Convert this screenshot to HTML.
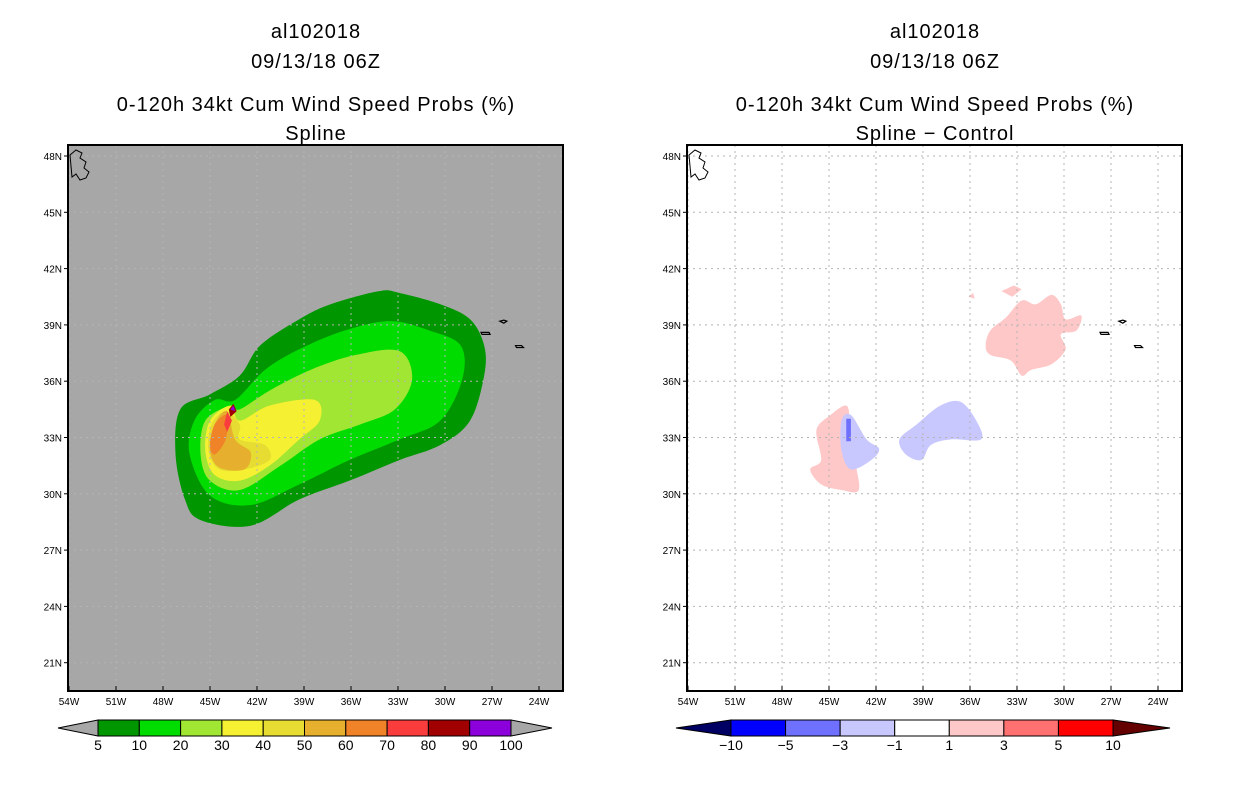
<!DOCTYPE html>
<html><head><meta charset="utf-8">
<style>
body{margin:0;background:#fff;width:1236px;height:800px;overflow:hidden;font-family:"Liberation Sans",sans-serif}
svg text{font-family:"Liberation Sans",sans-serif}
</style></head>
<body>
<svg id="chart" width="1236" height="800" xmlns="http://www.w3.org/2000/svg"></svg>
<script>
const latTicks=[48,45,42,39,36,33,30,27,24,21];
const lonTicks=[54,51,48,45,42,39,36,33,30,27,24];
const probLevels=["5","10","20","30","40","50","60","70","80","90","100"];
const probColors=["#009600","#00dc00","#a0e632","#f5f032","#e6dc32","#e6af2d","#f08228","#fa3c3c","#a00000","#8c00dc"];
const diffLevels=["-10","-5","-3","-1","1","3","5","10"];
const diffColors=["#0000ff","#7070ff","#c8c8ff","#ffffff","#ffc8c8","#ff7070","#ff0000"];
const c5=[[-47.2,32.1],[-46.9,34.5],[-45.0,35.3],[-43.1,36.3],[-41.8,37.9],[-39.3,39.3],[-37.3,40.1],[-34.2,40.8],[-32.9,40.7],[-30.3,40.1],[-28.4,39.3],[-27.5,37.9],[-27.5,36.3],[-28.4,33.9],[-30.3,32.6],[-32.9,31.8],[-36.1,30.7],[-39.3,29.7],[-42.4,28.3],[-45.6,28.6],[-46.6,29.7]];
const c10=[[-46.3,32.1],[-46.0,33.9],[-44.7,35.0],[-43.4,35.0],[-41.5,36.6],[-39.3,37.7],[-36.4,38.7],[-33.5,39.2],[-31.0,38.7],[-29.0,37.9],[-28.9,36.1],[-30.3,33.9],[-32.9,32.9],[-36.1,31.8],[-39.3,30.5],[-42.4,29.4],[-45.0,29.9]];
const c20=[[-45.6,32.1],[-45.3,33.9],[-43.7,34.7],[-43.1,34.5],[-41.2,35.5],[-38.6,36.6],[-35.7,37.4],[-32.9,37.6],[-32.1,36.1],[-33.2,34.5],[-35.4,33.7],[-38.0,32.9],[-40.5,31.5],[-43.1,30.2],[-45.0,30.7]];
const c30=[[-45.3,32.3],[-45.0,33.9],[-43.7,34.7],[-43.1,33.9],[-41.2,34.7],[-38.3,35.0],[-38.0,33.9],[-39.3,32.9],[-41.2,31.5],[-43.1,30.7],[-44.7,31.0]];
const c40=[[-45.1,32.3],[-44.9,33.7],[-44.0,34.4],[-43.1,33.7],[-43.1,32.9],[-41.5,32.6],[-41.2,31.8],[-42.8,31.3],[-44.4,31.3]];
const c50=[[-45.0,32.3],[-44.7,33.7],[-43.9,34.4],[-43.4,32.9],[-42.4,32.2],[-42.8,31.3],[-44.4,31.4]];
const c60=[[-45.0,32.6],[-44.7,33.7],[-43.9,34.2],[-44.0,32.9],[-44.7,32.1]];
const c70=[[-44.1,33.7],[-43.9,34.4],[-43.6,33.9],[-43.9,33.3]];
const c80=[[-43.8,34.5],[-43.5,34.8],[-43.3,34.4],[-43.7,34.1]];
const c90=[[-43.7,34.5],[-43.5,34.7],[-43.4,34.4]];
const probContours=[c5,c10,c20,c30,c40,c50,c60,c70,c80,c90];
const pinkA=[[-34.7,38.7],[-33.7,39.4],[-32.7,40.3],[-31.8,40.1],[-30.8,40.6],[-30.2,40.1],[-29.9,39.3],[-28.9,39.5],[-29.2,38.7],[-30.2,38.5],[-29.9,37.7],[-30.8,36.9],[-32.1,36.6],[-32.7,36.3],[-33.4,37.1],[-34.7,37.4],[-35.0,37.9]];
const pinkB=[[-34.0,40.8],[-33.2,41.1],[-32.7,40.9],[-33.3,40.5]];
const pinkD=[[-36.1,40.5],[-35.8,40.7],[-35.7,40.4]];
const pinkC=[[-45.8,33.4],[-44.9,34.2],[-43.9,34.7],[-43.6,33.9],[-43.0,32.9],[-43.3,31.8],[-43.1,30.2],[-44.2,30.2],[-45.5,30.5],[-46.2,31.3],[-45.5,31.8]];
const blueA=[[-44.2,33.9],[-43.6,34.2],[-42.6,32.9],[-41.8,32.4],[-42.3,31.8],[-43.6,31.3],[-44.2,32.3]];
const blueB=[[-40.5,32.9],[-39.4,33.7],[-37.9,34.7],[-36.6,34.9],[-35.6,33.9],[-35.3,32.9],[-37.2,32.9],[-38.5,32.6],[-39.1,31.8],[-40.1,32.1]];
const blueDark=[[-43.9,34.0],[-43.6,34.0],[-43.6,32.8],[-43.9,32.8]];
const diffContours=[[pinkA,"#ffc8c8"],[pinkB,"#ffc8c8"],[pinkD,"#ffc8c8"],[pinkC,"#ffc8c8"],[blueA,"#c8c8ff"],[blueB,"#c8c8ff"],[blueDark,"#7070ff"]];

const NS="http://www.w3.org/2000/svg";
const svg=document.getElementById('chart');
function mk(t,a,p){const e=document.createElementNS(NS,t);for(const k in a)e.setAttribute(k,a[k]);(p||svg).appendChild(e);return e;}
const Y=lat=>156+(48-lat)*56.3/3;
function panel(x0,bg,title2,name){
  const X=lon=>x0+1+(lon+54)*47/3;
  const g=mk('g',{});
  
  
  const titles=[["al102018",30],["09/13/18 06Z",60],["0-120h 34kt Cum Wind Speed Probs (%)",103],[title2,132]];
  titles.forEach((t,i)=>{const e=mk('text',{x:x0+248,y:t[1]+8,'text-anchor':'middle','font-size':20,'letter-spacing':'1'},g);e.textContent=t[0];
    
    });
  const bgr=mk('rect',{x:x0,y:145,width:495,height:546,fill:bg},g);
  
  
  return {g,X};
}
function poly(pts,X,fill,g,nm){
  const P=pts.map(p=>[X(p[0]),Y(p[1])]);const n=P.length;
  let d=`M${P[0][0]},${P[0][1]}`;
  for(let i=0;i<n;i++){const p0=P[(i-1+n)%n],p1=P[i],p2=P[(i+1)%n],p3=P[(i+2)%n];
    const t=n<5?0:1/6;
    d+=`C${p1[0]+(p2[0]-p0[0])*t},${p1[1]+(p2[1]-p0[1])*t} ${p2[0]-(p3[0]-p1[0])*t},${p2[1]-(p3[1]-p1[1])*t} ${p2[0]},${p2[1]}`;}
  const e=mk('path',{d:d+'Z',fill:fill},g);
  
  
}
function grid(x0,X,g){
  for(const t of lonTicks){const x=X(-t);
    mk('line',{x1:x,y1:145,x2:x,y2:691,stroke:'#b4b4b4','stroke-dasharray':'2,4','stroke-width':1},g);
    mk('line',{x1:x,y1:686,x2:x,y2:691,stroke:'#000'},g);
    const e=mk('text',{x:x,y:705,'text-anchor':'middle','font-size':10},g);e.textContent=t+'W';
    
    }
  for(const t of latTicks){const y=Y(t);
    mk('line',{x1:x0,y1:y,x2:x0+495,y2:y,stroke:'#b4b4b4','stroke-dasharray':'2,4','stroke-width':1},g);
    mk('line',{x1:x0-4,y1:y,x2:x0,y2:y,stroke:'#000'},g);
    const e=mk('text',{x:x0-6,y:y+4,'text-anchor':'end','font-size':10},g);e.textContent=t+'N';
    
    }
  mk('path',{d:`M${X(-27.7)} ${Y(38.6)}l8 0l1 2l-8 0z M${X(-26.5)} ${Y(39.2)}l4 -1l3 1l-3 2z M${X(-25.5)} ${Y(37.9)}l6 0l2 2l-7 0z`,fill:'none',stroke:'#000','stroke-width':1.2},g);
  mk('path',{d:`M${x0+2} ${155}l6 -5l6 3l-2 5l6 4l-2 6l5 4l-3 6l-6 2l-4 -6l-4 3z`,fill:'none',stroke:'#000','stroke-width':1},g);
  const fr=mk('rect',{x:x0,y:145,width:495,height:546,fill:'none',stroke:'#000','stroke-width':2},g);
  
  
}
function colorbar(x0,x1,xs,xe,colors,labels,leftC,rightC,name){
  const g=mk('g',{});
  
  
  const y0=720,y1=736,w=(xe-xs)/colors.length;
  mk('polygon',{points:`${x0},728 ${xs},${y0} ${xs},${y1}`,fill:leftC,stroke:'#000'},g);
  mk('polygon',{points:`${x1},728 ${xe},${y0} ${xe},${y1}`,fill:rightC,stroke:'#000'},g);
  colors.forEach((c,i)=>{const r=mk('rect',{x:xs+i*w,y:y0,width:w,height:y1-y0,fill:c,stroke:'#000'},g);
    
    });
  labels.forEach((l,i)=>{const e=mk('text',{x:xs+i*w,y:750,'text-anchor':'middle','font-size':14},g);e.textContent=l.replace('-','\u2212');
    
    });
}
const L=panel(68,'#a7a7a7','Spline','left-panel');
probContours.forEach((c,i)=>poly(c,L.X,probColors[i],L.g,'prob-contour-'+probLevels[i]));
grid(68,L.X,L.g);
colorbar(58,552,98,511,probColors,probLevels.slice(0,10),'#a7a7a7','#a7a7a7','prob-colorbar');
{const e=mk('text',{x:511,y:750,'text-anchor':'middle','font-size':14});e.textContent='100';

}
const R=panel(687,'#ffffff','Spline \u2212 Control','right-panel');
diffContours.forEach((c,i)=>poly(c[0],R.X,c[1],R.g,'diff-contour-'+i));
grid(687,R.X,R.g);
colorbar(676,1170,731,1113,diffColors,diffLevels,'#000064','#640000','diff-colorbar');
</script>
</body></html>
